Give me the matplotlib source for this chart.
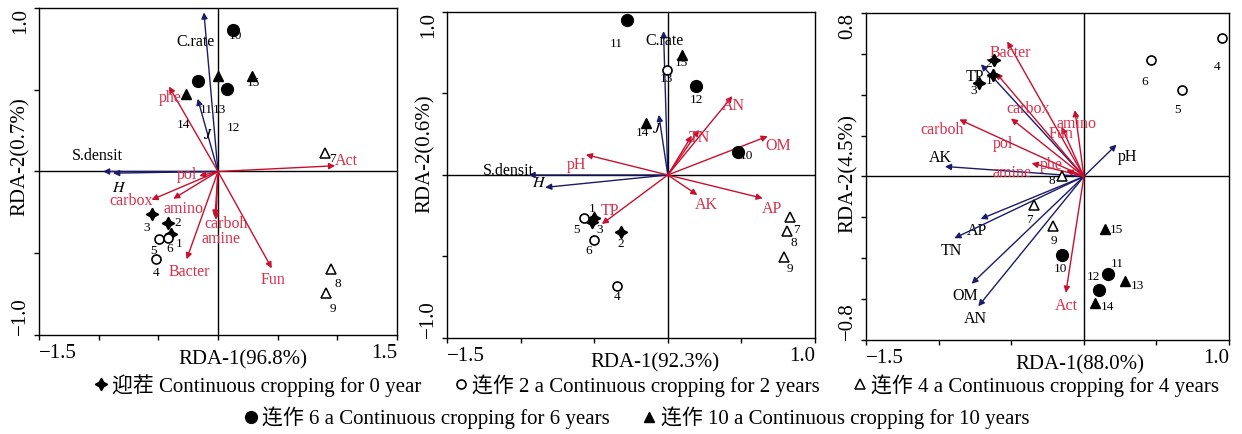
import matplotlib
matplotlib.use('Agg')
from matplotlib import pyplot as plt
from matplotlib.lines import Line2D

plt.rcParams['font.family'] = ['Liberation Serif', 'Noto Sans CJK SC']
plt.rcParams['mathtext.fontset'] = 'stix'

# sample groups: 0 year, 2 years, 4 years, 6 years, 10 years
group_names = ['迎茬 Continuous cropping for 0 year',
               '连作 2 a Continuous cropping for 2 years',
               '连作 4 a Continuous cropping for 4 years',
               '连作 6 a Continuous cropping for 6 years',
               '连作 10 a Continuous cropping for 10 years']
sample_ids = [str(i) for i in range(1, 16)]

# ---- panel 1 ----
p1_x = [-0.395, -0.417, -0.549, -0.521, -0.498, -0.417, 0.898, 0.949, 0.907,
        0.123, -0.168, 0.076, -0.003, -0.269, 0.283]
p1_y = [-0.384, -0.316, -0.261, -0.537, -0.410, -0.408, 0.116, -0.598, -0.745,
        0.863, 0.553, 0.506, 0.582, 0.473, 0.586]
p1_lx = [-0.325, -0.341, -0.599, -0.515, -0.543, -0.403, 0.960, 1.005, 0.960,
         0.143, -0.101, 0.129, 0.010, -0.291, 0.297]
p1_ly = [-0.445, -0.316, -0.347, -0.622, -0.484, -0.476, 0.076, -0.690, -0.841,
         0.831, 0.378, 0.265, 0.378, 0.282, 0.541]
p1_grp = [0, 0, 0, 1, 1, 1, 2, 2, 2, 3, 3, 3, 4, 4, 4]
p1_env = ['C.rate', '$J$', 'S.densit', '$H$']
p1_env_x = [-0.118, -0.170, -0.963, -0.879]
p1_env_y = [0.973, 0.445, 0.0, -0.010]
p1_env_lx = [-0.185, -0.081, -1.013, -0.831]
p1_env_ly = [0.790, 0.224, 0.096, -0.102]
p1_mic = ['Act', 'phe', 'pol', 'carbox', 'amino', 'carboh', 'amine', 'Bacter', 'Fun']
p1_mic_x = [0.982, -0.411, -0.157, -0.557, -0.375, -0.017, -0.025, -0.263, 0.451]
p1_mic_y = [0.035, 0.520, -0.027, -0.173, -0.167, -0.296, -0.276, -0.537, -0.592]
p1_mic_lx = [1.080, -0.403, -0.263, -0.725, -0.291, 0.067, 0.022, -0.243, 0.459]
p1_mic_ly = [0.065, 0.449, -0.020, -0.178, -0.231, -0.322, -0.414, -0.612, -0.663]

# ---- panel 2 ----
p2_x = [-0.504, -0.317, -0.516, -0.342, -0.572, -0.498, 0.830, 0.812, 0.790,
        0.475, -0.278, 0.192, -0.007, -0.147, 0.095]
p2_y = [-0.266, -0.352, -0.287, -0.680, -0.266, -0.400, -0.260, -0.342, -0.502,
        0.139, 0.953, 0.543, 0.645, 0.320, 0.738]
p2_lx = [-0.514, -0.319, -0.464, -0.342, -0.618, -0.538, 0.876, 0.853, 0.830,
         0.536, -0.351, 0.197, -0.007, -0.170, 0.095]
p2_ly = [-0.209, -0.424, -0.336, -0.748, -0.336, -0.469, -0.338, -0.420, -0.578,
         0.115, 0.805, 0.461, 0.590, 0.258, 0.686]
p2_grp = [0, 0, 0, 1, 1, 1, 2, 2, 2, 3, 3, 3, 1, 4, 4]
p2_env = ['C.rate', '$J$', 'S.densit', '$H$']
p2_env_x = [-0.029, -0.061, -0.946, -0.833]
p2_env_y = [0.883, 0.369, 0.0, -0.076]
p2_env_lx = [-0.023, -0.075, -1.084, -0.871]
p2_env_ly = [0.822, 0.283, 0.023, -0.051]
p2_mic = ['AN', 'TN', '', 'OM', 'AK', 'AP', 'pH', 'TP']
p2_mic_x = [0.439, 0.212, 0.163, 0.679, 0.201, 0.645, -0.557, -0.448]
p2_mic_y = [0.484, 0.277, 0.242, 0.238, -0.123, -0.143, 0.125, -0.301]
p2_mic_lx = [0.446, 0.215, 0.0, 0.751, 0.265, 0.706, -0.618, -0.396]
p2_mic_ly = [0.426, 0.225, 0.0, 0.180, -0.184, -0.209, 0.064, -0.223]

# ---- panel 3 ----
p3_x = [-0.624, -0.619, -0.720, 0.952, 0.679, 0.459, -0.342, -0.149, -0.211,
        -0.154, 0.163, 0.105, 0.282, 0.080, 0.145]
p3_y = [0.497, 0.571, 0.456, 0.677, 0.423, 0.571, -0.138, 0.0, -0.244,
        -0.385, -0.475, -0.554, -0.512, -0.618, -0.257]
p3_lx = [-0.652, -0.652, -0.762, 0.917, 0.642, 0.422, -0.376, -0.222, -0.204,
         -0.158, 0.229, 0.064, 0.367, 0.163, 0.225]
p3_ly = [0.467, 0.549, 0.420, 0.538, 0.325, 0.464, -0.213, -0.020, -0.315,
         -0.451, -0.430, -0.492, -0.536, -0.638, -0.261]
p3_grp = [0, 0, 0, 1, 1, 1, 2, 2, 2, 3, 3, 3, 4, 4, 4]
p3_env = ['TP', 'AK', 'pH', 'AP', 'TN', 'OM', 'AN']
p3_env_x = [-0.709, -0.957, 0.225, -0.711, -0.892, -0.773, -0.727]
p3_env_y = [0.549, 0.049, 0.156, -0.208, -0.302, -0.525, -0.635]
p3_env_lx = [-0.750, -0.991, 0.298, -0.739, -0.915, -0.819, -0.750]
p3_env_ly = [0.488, 0.092, 0.095, -0.269, -0.364, -0.587, -0.697]
p3_mic = ['Bacter', 'carbox', 'pol', 'carboh', 'amino', 'Fun', 'amine', 'phe', 'Act']
p3_mic_x = [-0.528, -0.606, -0.502, -0.858, -0.062, -0.154, -0.360, -0.120, -0.124]
p3_mic_y = [0.661, 0.508, 0.284, 0.279, 0.325, 0.243, 0.065, 0.030, -0.569]
p3_mic_lx = [-0.509, -0.383, -0.555, -0.979, -0.050, -0.154, -0.498, -0.222, -0.119]
p3_mic_ly = [0.603, 0.330, 0.161, 0.226, 0.256, 0.207, 0.016, 0.054, -0.635]

NAVY = '#1b1b6b'
RED = '#c8102e'
RED_TXT = '#d6304c'
grp_style = [dict(marker=(4, 1, 0), ms=9, mfc='black', mec='black'),
             dict(marker='o', ms=6.5, mfc='white', mec='black', mew=1.2),
             dict(marker='^', ms=6.5, mfc='white', mec='black', mew=1.1),
             dict(marker='o', ms=8.5, mfc='black', mec='black'),
             dict(marker='^', ms=7, mfc='black', mec='black')]

fig = plt.figure(figsize=(12.42, 4.34), dpi=100)


def panel(rect, xs, ys, lxs, lys, grp, env, ex, ey, elx, ely, mic, mx, my, mlx, mly,
          ylim, yticks, xlab, ylab, xlab_off, ylab_pos):
    ax = fig.add_axes(rect)
    ax.axhline(0, color='black', lw=1, zorder=1)
    ax.axvline(0, color='black', lw=1, zorder=1)
    for name, x, y, lx, ly in zip(env, ex, ey, elx, ely):
        ax.annotate('', xy=(x, y), xytext=(0, 0),
                    arrowprops=dict(arrowstyle='-|>', color=NAVY, lw=1,
                                    mutation_scale=9, shrinkA=0, shrinkB=0))
        ax.text(lx, ly, name, color='black', fontsize=11.5, ha='center', va='center')
    for name, x, y, lx, ly in zip(mic, mx, my, mlx, mly):
        ax.annotate('', xy=(x, y), xytext=(0, 0),
                    arrowprops=dict(arrowstyle='-|>', color=RED, lw=1,
                                    mutation_scale=9, shrinkA=0, shrinkB=0))
        if name:
            ax.text(lx, ly, name, color=RED_TXT, fontsize=11.5, ha='center', va='center')
    for sid, x, y, lx, ly, g in zip(sample_ids, xs, ys, lxs, lys, grp):
        ax.plot([x], [y], ls='none', zorder=3, **grp_style[g])
        ax.text(lx, ly, sid, fontsize=9.5, ha='center', va='center', zorder=4)
    ax.set_xlim(-1.5, xlab[1])
    ax.set_ylim(-ylim, ylim)
    xt = [-1.5 + 0.5 * i for i in range(int(round((xlab[1] + 1.5) / 0.5)) + 1)]
    ax.set_xticks(xt)
    ax.set_xticklabels(['−1.5'] + [''] * (len(xt) - 2) + [xlab[2]], fontsize=15)
    tl = ax.get_xticklabels()
    tl[0].set_ha('left')
    tl[-1].set_ha('right')
    ax.set_yticks(yticks)
    ax.set_yticklabels(['−%.1f' % ylim] + [''] * (len(yticks) - 2) + ['%.1f' % ylim],
                       fontsize=15, rotation=90)
    yl = ax.get_yticklabels()
    yl[0].set_va('bottom')
    yl[-1].set_va('top')
    ax.tick_params(direction='out', length=3.5, width=1, pad=3)
    for s in ax.spines.values():
        s.set_linewidth(1)
    ax.text(0.5 + xlab_off, -0.075, xlab[0], transform=ax.transAxes, fontsize=15,
            ha='center', va='center')
    ax.text(ylab_pos[0], ylab_pos[1], ylab, transform=ax.transAxes, fontsize=15,
            rotation=90, ha='center', va='center')
    return ax


panel([0.0314, 0.2281, 0.2882, 0.7535], p1_x, p1_y, p1_lx, p1_ly, p1_grp,
      p1_env, p1_env_x, p1_env_y, p1_env_lx, p1_env_ly,
      p1_mic, p1_mic_x, p1_mic_y, p1_mic_lx, p1_mic_ly,
      1.0, [-1.0, -0.5, 0, 0.5, 1.0], ('RDA-1(96.8%)', 1.5, '1.5'), 'RDA-2(0.7%)',
      0.07, (-0.053, 0.544))
panel([0.3599, 0.2212, 0.2963, 0.7512], p2_x, p2_y, p2_lx, p2_ly, p2_grp,
      p2_env, p2_env_x, p2_env_y, p2_env_lx, p2_env_ly,
      p2_mic, p2_mic_x, p2_mic_y, p2_mic_lx, p2_mic_ly,
      1.0, [-1.0, -0.5, 0, 0.5, 1.0], ('RDA-1(92.3%)', 1.0, '1.0'), 'RDA-2(0.6%)',
      0.065, (-0.058, 0.564))
panel([0.6973, 0.2166, 0.2923, 0.7535], p3_x, p3_y, p3_lx, p3_ly, p3_grp,
      p3_env, p3_env_x, p3_env_y, p3_env_lx, p3_env_ly,
      p3_mic, p3_mic_x, p3_mic_y, p3_mic_lx, p3_mic_ly,
      0.8, [-0.8, -0.6, -0.4, -0.2, 0, 0.2, 0.4, 0.6, 0.8], ('RDA-1(88.0%)', 1.0, '1.0'),
      'RDA-2(4.5%)', 0.09, (-0.050, 0.508))

handles = [Line2D([], [], ls='none', **grp_style[i]) for i in range(5)]
leg_kw = dict(frameon=False, fontsize=15, handletextpad=0.15, handlelength=0.8,
              columnspacing=1.5, borderaxespad=0)
fig.legend(handles[:3], group_names[:3], ncol=3, loc='center',
           bbox_to_anchor=(0.528, 0.112), **leg_kw)
fig.legend(handles[3:], group_names[3:], ncol=2, loc='center',
           bbox_to_anchor=(0.512, 0.037), **leg_kw)

fig.savefig('out.png', dpi=100)
